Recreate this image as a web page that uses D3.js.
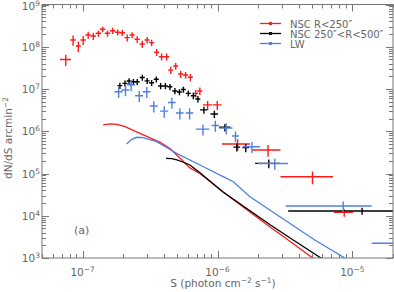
<!DOCTYPE html>
<html>
<head>
<meta charset="utf-8">
<script src="https://cdn.jsdelivr.net/npm/d3@7"></script>
<style>
  body { margin: 0; background: #fff; }
  text { font-family: "DejaVu Sans", sans-serif; fill: #666; }
</style>
</head>
<body>
<div id="chart"></div>
<script>

// NSC R<250"
const innerS  = [7.5e-8, 8.5e-8, 9.3e-8, 1.01e-7, 1.10e-7, 1.20e-7, 1.31e-7, 1.41e-7, 1.53e-7, 1.67e-7, 1.82e-7, 1.97e-7, 2.14e-7, 2.33e-7, 2.54e-7, 2.77e-7, 3.01e-7, 3.25e-7, 3.54e-7, 3.85e-7, 4.2e-7, 4.5e-7, 4.9e-7, 5.33e-7, 5.8e-7, 6.3e-7, 6.9e-7, 7.4e-7, 8.45e-7, 9.96e-7, 1.41e-6, 2.37e-6, 5.06e-6, 8.7e-6]
const innerdS = [0.7e-8, 0.4e-8, 0.4e-8, 0.045e-7, 0.05e-7, 0.055e-7, 0.06e-7, 0.065e-7, 0.07e-7, 0.075e-7, 0.08e-7, 0.09e-7, 0.1e-7, 0.1e-7, 0.11e-7, 0.12e-7, 0.13e-7, 0.14e-7, 0.15e-7, 0.17e-7, 0.18e-7, 0.2e-7, 0.21e-7, 0.23e-7, 0.25e-7, 0.27e-7, 0.3e-7, 0.32e-7, 0.65e-7, 0.75e-7, 0.33e-6, 0.56e-6, 2.13e-6, 1.4e-6]
const innerN  = [5.0e7, 1.45e8, 1.04e8, 1.45e8, 1.9e8, 1.8e8, 2.08e8, 2.59e8, 2.08e8, 2.4e8, 2.2e8, 2.15e8, 1.64e8, 1.9e8, 1.5e8, 1.16e8, 1.45e8, 1.25e8, 7.4e7, 5.8e7, 5.8e7, 2.8e7, 3.5e7, 2.26e7, 2.14e7, 1.89e7, 7.9e6, 9.0e6, 4.2e6, 4.2e6, 5.0e5, 3.6e5, 8.4e4, 1.2e4]
const innerdN = [1.5e7, 0.4e8, 0.3e8, 0.35e8, 0.35e8, 0.35e8, 0.35e8, 0.4e8, 0.35e8, 0.4e8, 0.35e8, 0.35e8, 0.3e8, 0.3e8, 0.27e8, 0.22e8, 0.25e8, 0.22e8, 1.4e7, 1.1e7, 1.1e7, 0.55e7, 0.65e7, 0.45e7, 0.4e7, 0.37e7, 1.6e6, 1.8e6, 1.0e6, 1.0e6, 1.5e5, 1.1e5, 2.8e4, 0.25e4]

// NSC 250"<R<500"
const outerS  = [1.89e-7, 2.06e-7, 2.21e-7, 2.38e-7, 2.54e-7, 2.77e-7, 3.01e-7, 3.25e-7, 3.52e-7, 3.79e-7, 4.11e-7, 4.44e-7, 4.83e-7, 5.22e-7, 5.59e-7, 6.08e-7, 6.62e-7, 7.16e-7, 7.93e-7, 9.48e-7, 1.135e-6, 1.39e-6, 1.62e-6, 2.4e-6, 1.18e-5]
const outerdS = [0.08e-7, 0.09e-7, 0.09e-7, 0.1e-7, 0.11e-7, 0.12e-7, 0.13e-7, 0.14e-7, 0.15e-7, 0.16e-7, 0.18e-7, 0.19e-7, 0.21e-7, 0.22e-7, 0.24e-7, 0.26e-7, 0.28e-7, 0.3e-7, 0.5e-7, 0.6e-7, 0.11e-6, 0.08e-6, 0.09e-6, 0.5e-6, 8.46e-6]
const outerN  = [1.2e7, 1.36e7, 1.55e7, 1.49e7, 1.49e7, 1.87e7, 1.56e7, 1.41e7, 1.7e7, 1.18e7, 1.18e7, 1.13e7, 9.0e6, 8.5e6, 9.7e6, 7.9e6, 6.9e6, 5.8e6, 3.2e6, 2.56e6, 1.24e6, 4.2e5, 4.1e5, 1.74e5, 1.3e4]
const outerdN = [0.2e7, 0.22e7, 0.25e7, 0.24e7, 0.24e7, 0.3e7, 0.25e7, 0.23e7, 0.27e7, 0.2e7, 0.2e7, 0.19e7, 1.5e6, 1.4e6, 1.6e6, 1.3e6, 1.2e6, 1.0e6, 0.6e6, 0.5e6, 0.25e6, 0.9e5, 0.9e5, 0.4e5, 0.25e4]

// LW
const lwS  = [1.85e-7, 2.08e-7, 2.29e-7, 2.63e-7, 2.99e-7, 3.37e-7, 4.03e-7, 4.59e-7, 5.26e-7, 6.21e-7, 7.8e-7, 9.64e-7, 1.16e-6, 1.36e-6, 1.8e-6, 2.66e-6, 8.55e-6, 2.1e-5]
const lwdS = [0.13e-7, 0.14e-7, 0.16e-7, 0.18e-7, 0.2e-7, 0.23e-7, 0.28e-7, 0.3e-7, 0.35e-7, 0.4e-7, 0.9e-7, 0.6e-7, 0.13e-6, 0.08e-6, 0.26e-6, 0.67e-6, 5.35e-6, 0.71e-5]
const lwN  = [8.6e6, 9.5e6, 1.26e7, 6.9e6, 8.6e6, 3.96e6, 2.99e6, 4.8e6, 2.7e6, 2.7e6, 1.12e6, 1.37e6, 1.19e6, 7.7e5, 4.3e5, 1.73e5, 1.7e4, 2.23e3]
const lwdN = [2.5e6, 2.8e6, 0.37e7, 2.0e6, 2.5e6, 1.2e6, 0.9e6, 1.4e6, 0.8e6, 0.8e6, 0.33e6, 0.4e6, 0.35e6, 2.2e5, 1.3e5, 0.5e5, 0.48e4, 0.6e3]

// model curves
const innerCurveS = [1.42e-7, 1.60e-7, 1.80e-7, 2.06e-7, 2.66e-7, 3.76e-7, 4.44e-7, 5.26e-7, 6.25e-7, 7.41e-7, 1.10e-6, 2.44e-6, 3.34e-6, 5.2e-6]
const innerCurveN = [1.41e6, 1.49e6, 1.45e6, 1.29e6, 8.9e5, 5.47e5, 3.9e5, 2.33e5, 1.36e5, 1.0e5, 3.65e4, 5.5e3, 2.67e3, 946]
const outerCurveS = [4.15e-7, 4.59e-7, 5.0e-7, 5.64e-7, 6.25e-7, 7.41e-7, 1.10e-6, 2.44e-6, 3.64e-6, 6.0e-6]
const outerCurveN = [2.29e5, 2.26e5, 2.09e5, 1.82e5, 1.59e5, 1.04e5, 3.65e4, 6.2e3, 2.67e3, 946]
const lwCurveS = [2.12e-7, 2.31e-7, 2.53e-7, 2.80e-7, 3.54e-7, 4.98e-7, 7.41e-7, 1.10e-6, 1.31e-6, 1.74e-6, 2.44e-6, 5.26e-6, 9.04e-6]
const lwCurveN = [5.0e5, 6.45e5, 7.2e5, 7.1e5, 5.66e5, 3.0e5, 1.59e5, 8.4e4, 6.4e4, 2.82e4, 1.37e4, 2.67e3, 946]

const legendLabels = ['NSC R<250\u2033', 'NSC 250\u2033<R<500\u2033', 'LW']

const width = 394
const height = 292
const margin = {left: 42, right: 1, top: 4.5, bottom: 34}
const red = '#ff1a1a'
const blue = '#4f7fe3'
const grey = '#777'

const x = d3.scaleLog().domain([5e-8, 2e-5]).range([margin.left, width - margin.right])
const y = d3.scaleLog().domain([1e3, 1e9]).range([height - margin.bottom, margin.top])

const svg = d3.select('#chart').append('svg')
  .attr('width', width)
  .attr('height', height)

svg.append('clipPath').attr('id', 'clip')
  .append('rect')
    .attr('x', x.range()[0]).attr('y', y.range()[1])
    .attr('width', x.range()[1] - x.range()[0])
    .attr('height', y.range()[0] - y.range()[1])

const plot = svg.append('g').attr('clip-path', 'url(#clip)')

const series = [
  {S: innerS, dS: innerdS, N: innerN, dN: innerdN, cS: innerCurveS, cN: innerCurveN, color: red},
  {S: outerS, dS: outerdS, N: outerN, dN: outerdN, cS: outerCurveS, cN: outerCurveN, color: '#000'},
  {S: lwS, dS: lwdS, N: lwN, dN: lwdN, cS: lwCurveS, cN: lwCurveN, color: blue}
]

const line = d3.line().x(d => x(d[0])).y(d => y(d[1]))

series.forEach(s => {
  plot.append('path')
    .datum(d3.zip(s.cS, s.cN))
    .attr('fill', 'none')
    .attr('stroke', s.color)
    .attr('stroke-width', 1.3)
    .attr('d', line)
})

series.forEach(s => {
  const pts = s.S.map((v, i) => ({S: v, dS: s.dS[i], N: s.N[i], dN: s.dN[i]}))
  const g = plot.append('g').attr('stroke', s.color).attr('stroke-width', 1.4)
  g.selectAll('.h').data(pts).join('line')
    .attr('x1', d => x(d.S - d.dS)).attr('x2', d => x(d.S + d.dS))
    .attr('y1', d => y(d.N)).attr('y2', d => y(d.N))
  g.selectAll('.v').data(pts).join('line')
    .attr('class', 'v')
    .attr('x1', d => x(d.S)).attr('x2', d => x(d.S))
    .attr('y1', d => y(d.N - d.dN)).attr('y2', d => y(d.N + d.dN))
})

// frame and ticks
const [x0, x1] = x.range()
const [y0, y1] = y.range()
svg.append('rect')
  .attr('x', x0).attr('y', y1)
  .attr('width', x1 - x0).attr('height', y0 - y1)
  .attr('fill', 'none').attr('stroke', grey).attr('stroke-width', 1)

const isMajor = v => Math.abs(Math.log10(v) - Math.round(Math.log10(v))) < 1e-6
const ticks = svg.append('g').attr('stroke', grey).attr('stroke-width', 1)

x.ticks().forEach(v => {
  const len = isMajor(v) ? 7 : 4
  const px = Math.round(x(v)) + 0.5
  ticks.append('line').attr('x1', px).attr('x2', px).attr('y1', y0).attr('y2', y0 - len)
  ticks.append('line').attr('x1', px).attr('x2', px).attr('y1', y1).attr('y2', y1 + len)
})
y.ticks().forEach(v => {
  const len = isMajor(v) ? 7 : 4
  const py = Math.round(y(v)) + 0.5
  ticks.append('line').attr('x1', x0).attr('x2', x0 + len).attr('y1', py).attr('y2', py)
  ticks.append('line').attr('x1', x1).attr('x2', x1 - len).attr('y1', py).attr('y2', py)
})

const supLabel = (g, exp) => {
  g.append('tspan').text('10')
  g.append('tspan').attr('dy', -4).attr('font-size', 7.5).text(exp)
}

x.ticks().filter(isMajor).forEach(v => {
  const t = svg.append('text')
    .attr('x', x(v)).attr('y', y0 + 18)
    .attr('text-anchor', 'middle')
    .attr('font-size', 10.5)
  supLabel(t, '\u2212' + Math.abs(Math.round(Math.log10(v))))
})
y.ticks().filter(isMajor).forEach(v => {
  const t = svg.append('text')
    .attr('x', x0 - 2).attr('y', Math.max(y(v) + 4, 9.5))
    .attr('text-anchor', 'end')
    .attr('font-size', 10.5)
  supLabel(t, Math.round(Math.log10(v)))
})

const xl = svg.append('text')
  .attr('x', 223).attr('y', 287)
  .attr('text-anchor', 'middle')
  .attr('font-size', 10.5)
xl.append('tspan').text('S (photon cm')
xl.append('tspan').attr('dy', -4).attr('font-size', 7.5).text('\u22122')
xl.append('tspan').attr('dy', 4).text(' s')
xl.append('tspan').attr('dy', -4).attr('font-size', 7.5).text('\u22121')
xl.append('tspan').attr('dy', 4).text(')')

const yl = svg.append('text')
  .attr('transform', 'translate(12,138) rotate(-90)')
  .attr('text-anchor', 'middle')
  .attr('font-size', 10.5)
yl.append('tspan').text('dN/dS arcmin')
yl.append('tspan').attr('dy', -4).attr('font-size', 7.5).text('\u22122')

svg.append('text')
  .attr('x', 74).attr('y', 234)
  .attr('font-size', 11)
  .text('(a)')

// legend
const legend = svg.append('g')
legendLabels.forEach((label, i) => {
  const ly = 23.5 + i * 10
  legend.append('line')
    .attr('x1', 260).attr('x2', 281).attr('y1', ly).attr('y2', ly)
    .attr('stroke', series[i].color).attr('stroke-width', 1.3)
  legend.append('rect')
    .attr('x', 269).attr('y', ly - 1.5).attr('width', 3).attr('height', 3)
    .attr('fill', series[i].color)
  legend.append('text')
    .attr('x', 290).attr('y', ly + 4)
    .attr('font-size', 10)
    .text(label)
})

</script>
</body>
</html>
